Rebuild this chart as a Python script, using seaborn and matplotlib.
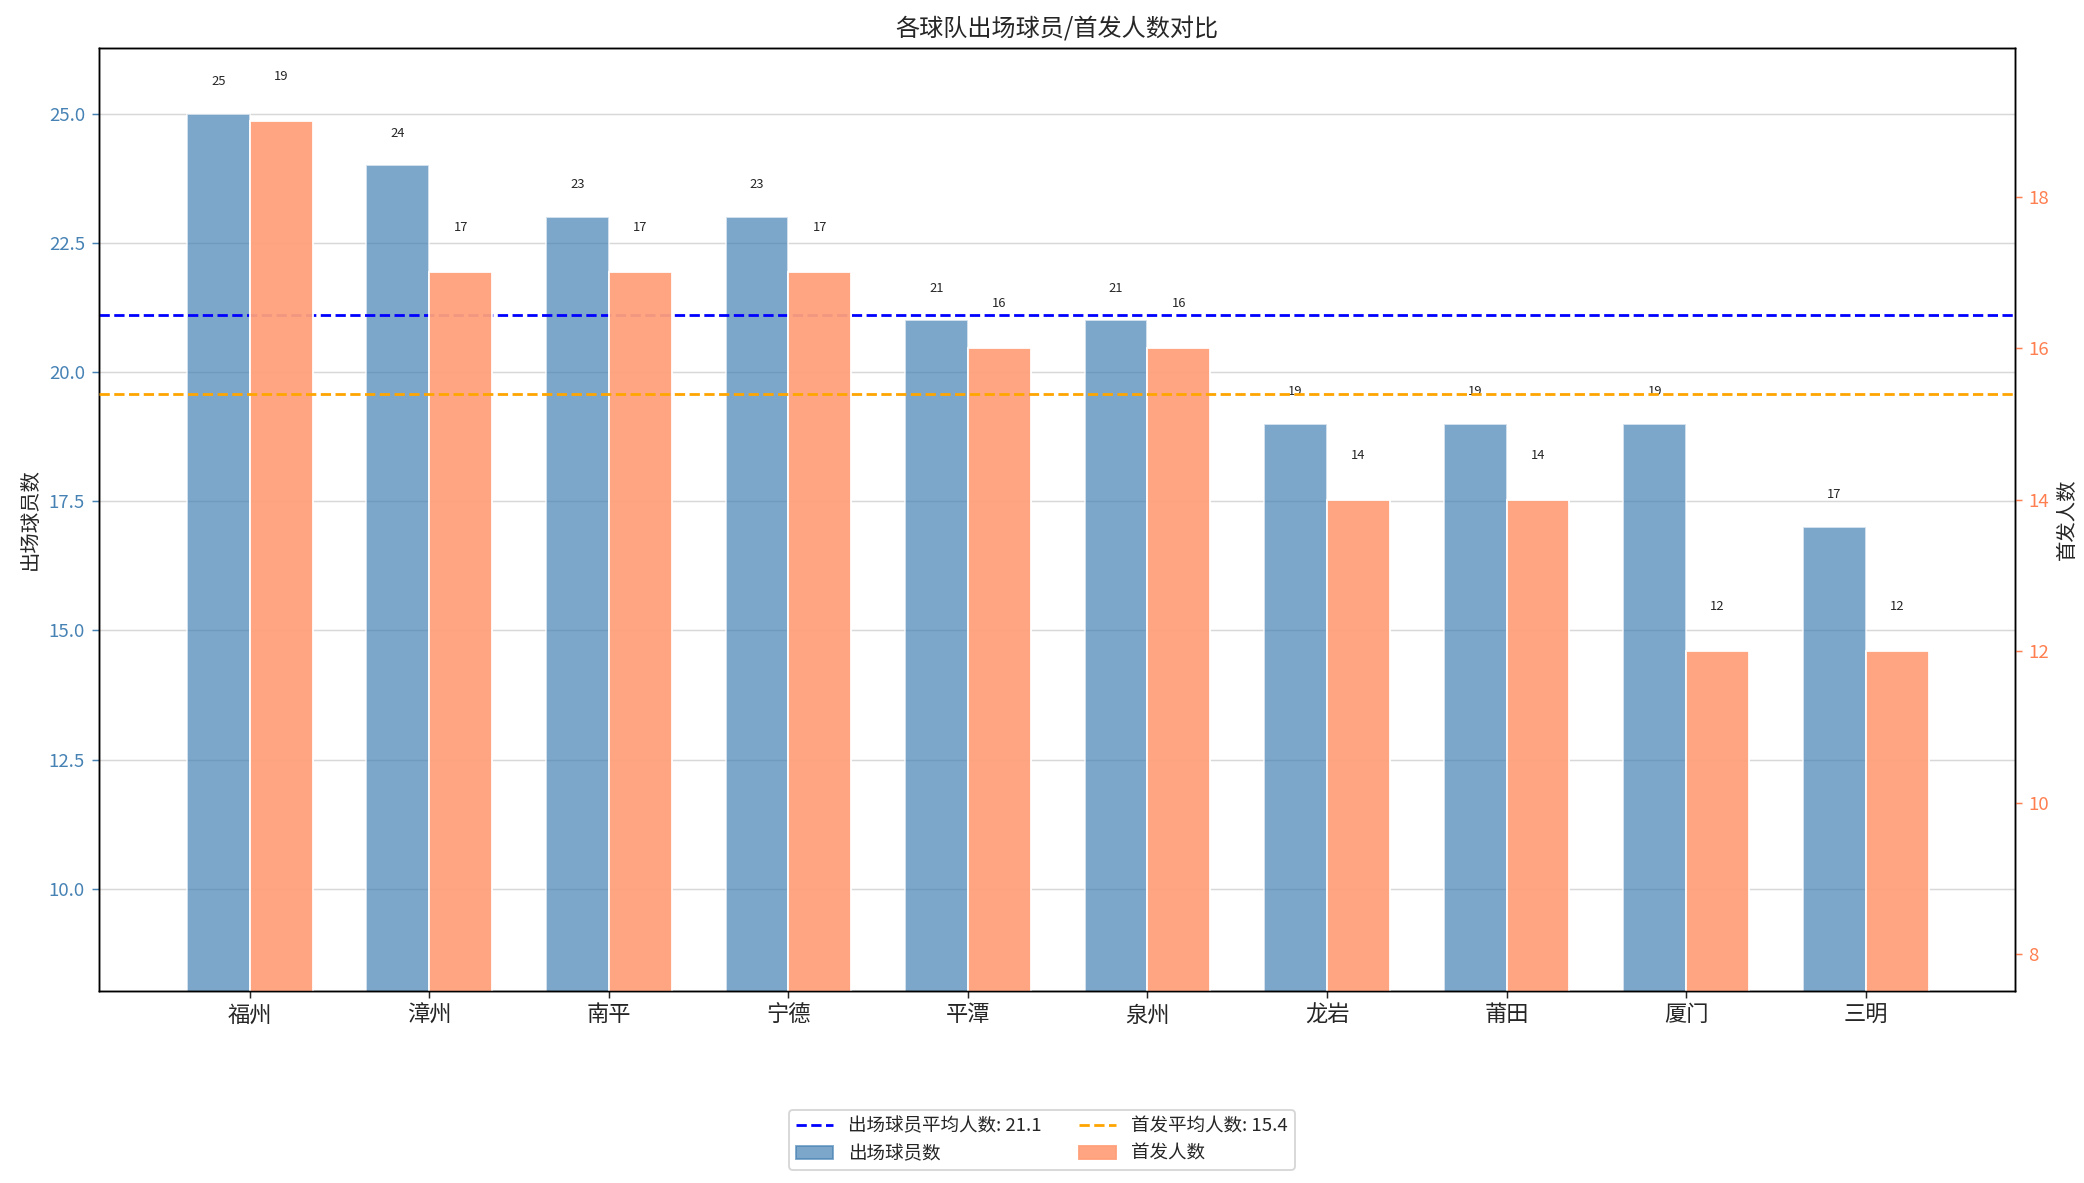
import numpy as np
import pandas as pd
import matplotlib
matplotlib.use("Agg")
import matplotlib.pyplot as plt
import seaborn as sns
from matplotlib.lines import Line2D
from matplotlib.patches import Patch

teams = ["福州", "漳州", "南平", "宁德", "平潭", "泉州", "龙岩", "莆田", "厦门", "三明"]
players = [25, 24, 23, 23, 21, 21, 19, 19, 19, 17]
starters = [19, 17, 17, 17, 16, 16, 14, 14, 12, 12]
avg_players = 21.1
avg_starters = 15.4

sns.set_style("white")
plt.rcParams['font.family'] = ['Noto Sans CJK SC', 'DejaVu Sans']
plt.rcParams['axes.unicode_minus'] = False

fig = plt.figure(figsize=(15.6, 8.855), dpi=133.6)
ax = fig.add_axes([74/1560, 1-741/885, (1508-74)/1560, (741-36)/885])
ax2 = ax.twinx()

w = 0.35
idx = np.arange(len(teams))
df1 = pd.DataFrame({"x": idx - w/2, "y": players})
df2 = pd.DataFrame({"x": idx + w/2, "y": starters})
blue = "steelblue"
orange = "#FFA07A"
sns.barplot(data=df1, x="x", y="y", native_scale=True, width=w, color=blue, alpha=0.7,
            saturation=1, ax=ax, zorder=2)
sns.barplot(data=df2, x="x", y="y", native_scale=True, width=w, color=orange, alpha=0.95,
            saturation=1, ax=ax2, zorder=2)

ax.axhline(avg_players, color="blue", ls="--", lw=1.5, zorder=3)
ax2.axhline(avg_starters, color="orange", ls="--", lw=1.5, zorder=3)

for x, v in zip(idx - w/2, players):
    ax.text(x, v + 0.5, str(v), ha="center", va="bottom", fontsize=7)
for x, v in zip(idx + w/2, starters):
    ax2.text(x, v + 0.5, str(v), ha="center", va="bottom", fontsize=7)

ax.set_xlim(-0.84, 9.83)
ax.set_ylim(8.03, 26.27)
ax2.set_ylim(7.52, 19.96)
ax.set_xticks(idx)
ax.set_xticklabels(teams, fontsize=12)
ax.set_xlabel("")
ax2.set_xlabel("")
ax.set_yticks([10, 12.5, 15, 17.5, 20, 22.5, 25])
ax.set_yticklabels(["10.0", "12.5", "15.0", "17.5", "20.0", "22.5", "25.0"])
ax2.set_yticks([8, 10, 12, 14, 16, 18])
ax.tick_params(axis="y", colors=blue, labelsize=10, left=True, length=4)
ax2.tick_params(axis="y", colors="#FF7F50", labelsize=10, right=True, length=4)
ax.tick_params(axis="x", bottom=True, length=4)
for a in (ax, ax2):
    for s in a.spines.values():
        s.set_color("black")
ax.set_ylabel("出场球员数", fontsize=11)
ax2.set_ylabel("首发人数", fontsize=11)
ax.yaxis.grid(True, alpha=0.3, color="gray", zorder=0)
ax.set_axisbelow(True)
ax.set_title("各球队出场球员/首发人数对比", fontsize=13)

handles = [Line2D([0], [0], color="blue", ls="--", lw=1.5),
           Patch(color=blue, alpha=0.7),
           Line2D([0], [0], color="orange", ls="--", lw=1.5),
           Patch(color=orange, alpha=0.95)]
labels = [f"出场球员平均人数: {avg_players}", "出场球员数",
          f"首发平均人数: {avg_starters}", "首发人数"]
fig.legend(handles, labels, loc="lower center", bbox_to_anchor=(0.5, 0.003), ncol=2, fontsize=10)

fig.savefig("out.png", dpi=133.6)
